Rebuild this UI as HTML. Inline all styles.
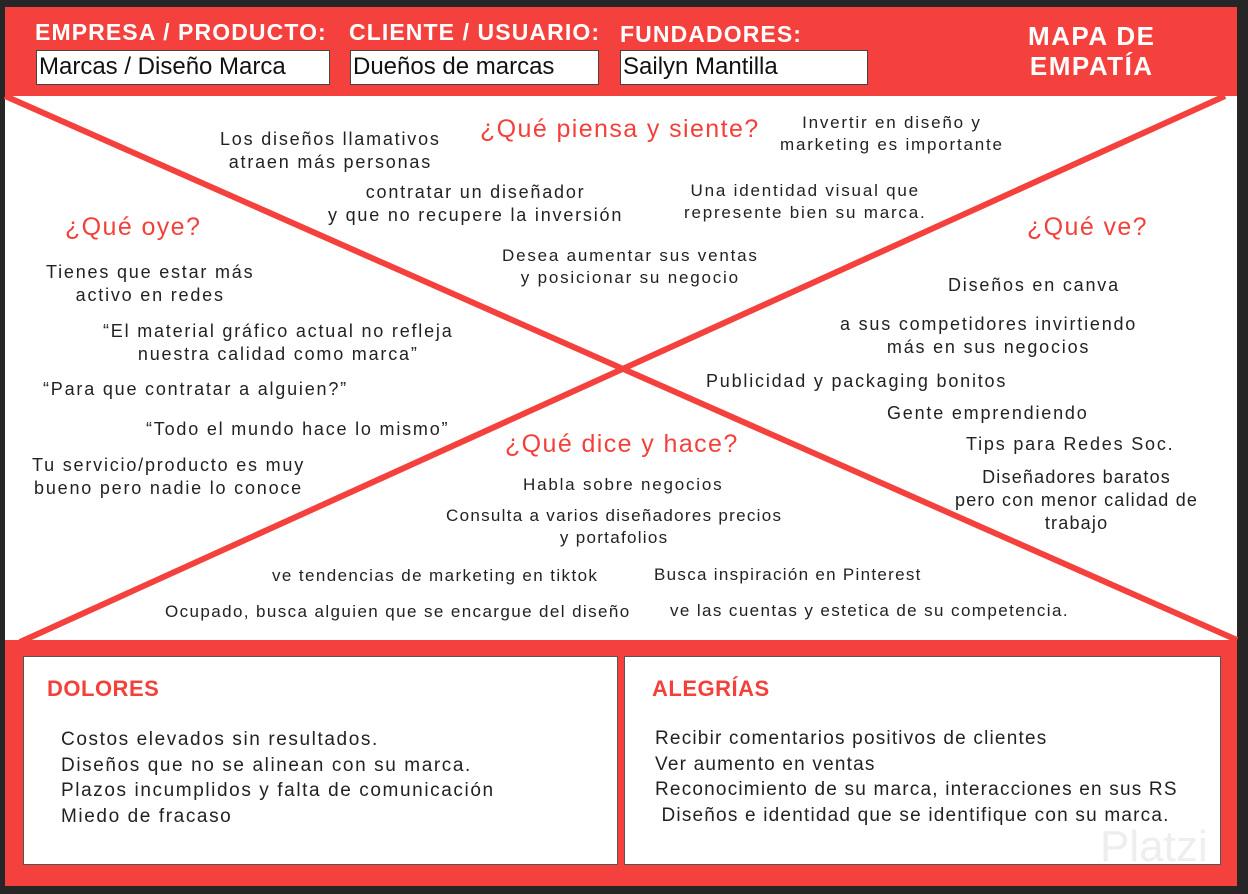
<!DOCTYPE html>
<html><head><meta charset="utf-8"><style>
*{margin:0;padding:0;box-sizing:border-box}
body{width:1248px;height:894px;background:#262626;position:relative;overflow:hidden;font-family:"Liberation Sans",sans-serif}
.t{position:absolute;color:#222;font-size:18px;line-height:23px;text-align:center;white-space:nowrap;letter-spacing:1.8px}
.h{position:absolute;color:#f4403b;font-size:25px;white-space:nowrap;letter-spacing:1.4px}
.lab{position:absolute;color:#fff;font-weight:bold;font-size:23px;white-space:nowrap;letter-spacing:1.1px}
.box{position:absolute;background:#fff;border:1px solid #444;font-size:24px;color:#111;padding-left:2px;line-height:32px;white-space:nowrap}
.l{position:absolute;font-size:19px;line-height:25.5px;color:#222;white-space:nowrap;letter-spacing:1.6px}
</style></head><body>
<div style="position:absolute;left:5px;top:7px;width:1232px;height:879px;background:#fff"></div>
<div style="position:absolute;left:5px;top:7px;width:1232px;height:89px;background:#f5413d"></div>
<div style="position:absolute;left:5px;top:640px;width:1232px;height:246px;background:#f5413d"></div>
<svg style="position:absolute;left:0;top:0" width="1248" height="894">
<line x1="5" y1="96" x2="1237" y2="640" stroke="#f5413d" stroke-width="6"/>
<line x1="1225" y1="96" x2="20" y2="642" stroke="#f5413d" stroke-width="6"/>
</svg>
<div class="lab" style="left:35px;top:19px">EMPRESA / PRODUCTO:</div>
<div class="lab" style="left:349px;top:19px">CLIENTE / USUARIO:</div>
<div class="lab" style="left:620px;top:21px">FUNDADORES:</div>
<div class="lab" style="left:1028px;top:21px;font-size:26px;line-height:30px;text-align:center;letter-spacing:1.5px">MAPA DE<br>EMPATÍA</div>
<div class="box" style="left:36px;top:50px;width:294px;height:35px">Marcas / Diseño Marca</div>
<div class="box" style="left:350px;top:50px;width:249px;height:35px">Dueños de marcas</div>
<div class="box" style="left:620px;top:50px;width:248px;height:35px">Sailyn Mantilla</div>

<div class="h" style="left:480px;top:115px">¿Qué piensa y siente?</div>
<div class="h" style="left:65px;top:213px">¿Qué oye?</div>
<div class="h" style="left:1027px;top:213px">¿Qué ve?</div>
<div class="h" style="left:505px;top:430px">¿Qué dice y hace?</div>

<div class="t" style="left:220px;top:128px">Los diseños llamativos<br>atraen más personas</div>
<div class="t" style="left:780px;top:112px;font-size:17px;line-height:22px">Invertir en diseño y<br>marketing es importante</div>
<div class="t" style="left:328px;top:181px">contratar un diseñador<br>y que no recupere la inversión</div>
<div class="t" style="left:684px;top:180px;font-size:17px;line-height:22px">Una identidad visual que<br>represente bien su marca.</div>
<div class="t" style="left:502px;top:245px;font-size:17px;line-height:22px">Desea aumentar sus ventas<br>y posicionar su negocio</div>

<div class="t" style="left:46px;top:261px">Tienes que estar más<br>activo en redes</div>
<div class="t" style="left:103px;top:320px">“El material gráfico actual no refleja<br>nuestra calidad como marca”</div>
<div class="t" style="left:43px;top:378px;text-align:left">“Para que contratar a alguien?”</div>
<div class="t" style="left:146px;top:418px;text-align:left">“Todo el mundo hace lo mismo”</div>
<div class="t" style="left:32px;top:454px">Tu servicio/producto es muy<br>bueno pero nadie lo conoce</div>

<div class="t" style="left:948px;top:274px">Diseños en canva</div>
<div class="t" style="left:840px;top:313px">a sus competidores invirtiendo<br>más en sus negocios</div>
<div class="t" style="left:706px;top:370px">Publicidad y packaging bonitos</div>
<div class="t" style="left:887px;top:402px">Gente emprendiendo</div>
<div class="t" style="left:966px;top:433px">Tips para Redes Soc.</div>
<div class="t" style="left:955px;top:466px;letter-spacing:1.2px">Diseñadores baratos<br>pero con menor calidad de<br>trabajo</div>

<div class="t" style="left:523px;top:473px;font-size:17px">Habla sobre negocios</div>
<div class="t" style="left:446px;top:505px;font-size:17px;line-height:22px;letter-spacing:1.3px">Consulta a varios diseñadores precios<br>y portafolios</div>
<div class="t" style="left:272px;top:564px;font-size:17px;letter-spacing:1.4px">ve tendencias de marketing en tiktok</div>
<div class="t" style="left:654px;top:563px;font-size:17px;letter-spacing:1.3px">Busca inspiración en Pinterest</div>
<div class="t" style="left:165px;top:600px;font-size:17px;letter-spacing:1.4px">Ocupado, busca alguien que se encargue del diseño</div>
<div class="t" style="left:670px;top:599px;font-size:17px;letter-spacing:1.4px">ve las cuentas y estetica de su competencia.</div>

<div style="position:absolute;left:23px;top:656px;width:595px;height:209px;background:#fff;border:1px solid #555"></div>
<div style="position:absolute;left:624px;top:656px;width:597px;height:209px;background:#fff;border:1px solid #555"></div>
<div class="h" style="left:47px;top:676px;font-weight:bold;font-size:22px;letter-spacing:0.5px">DOLORES</div>
<div class="h" style="left:652px;top:676px;font-weight:bold;font-size:22px;letter-spacing:0.5px">ALEGRÍAS</div>
<div class="l" style="left:61px;top:727px">Costos elevados sin resultados.<br>Diseños que no se alinean con su marca.<br>Plazos incumplidos y falta de comunicación<br>Miedo de fracaso</div>
<div class="l" style="left:655px;top:726px;letter-spacing:1.2px">Recibir comentarios positivos de clientes<br>Ver aumento en ventas<br>Reconocimiento de su marca, interacciones en sus RS<br>&nbsp;Diseños e identidad que se identifique con su marca.</div>
<div style="position:absolute;left:1100px;top:822px;font-size:44px;color:#eee">Platzi</div>
</body></html>
